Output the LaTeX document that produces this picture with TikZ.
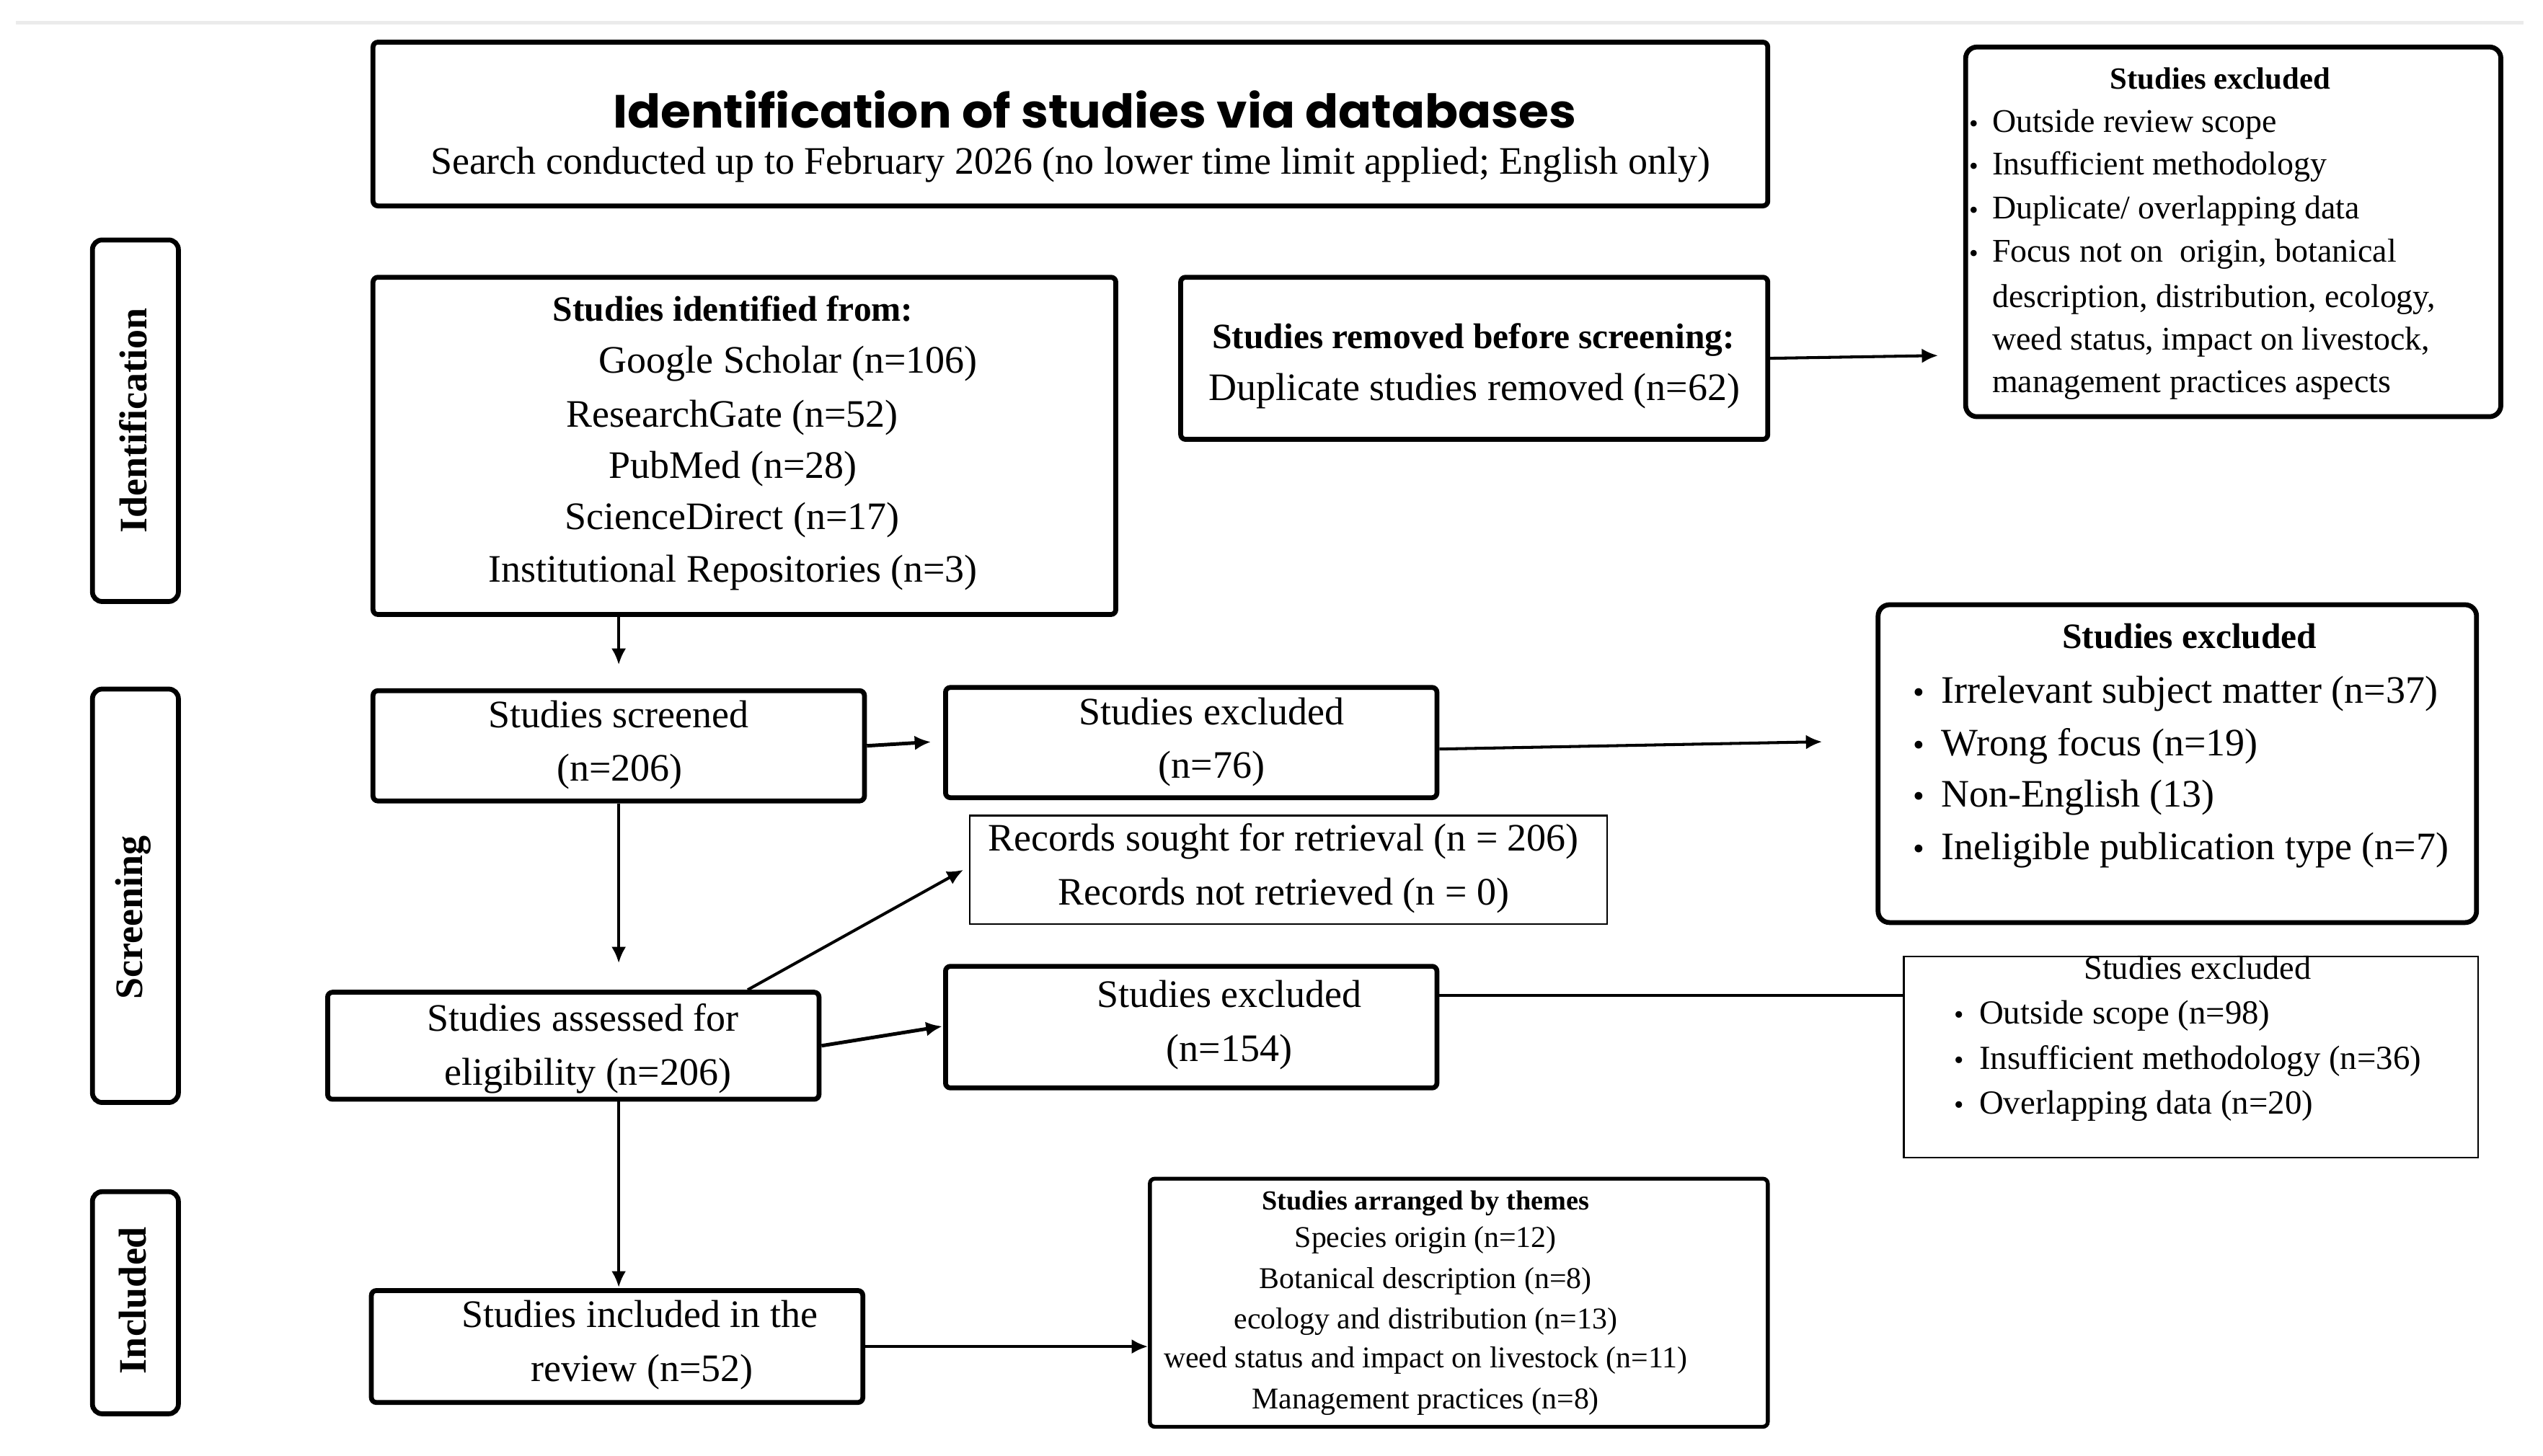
\documentclass[tikz,border=0pt]{standalone}
\usepackage{graphicx}
\usepackage{fontspec}
\setmainfont{Liberation Serif}
\newfontfamily\titlefont{Poppins}
\usetikzlibrary{fit,arrows.meta}
\tikzset{
  bx/.style={draw, line width=1.5pt, rounded corners=1.5pt, inner sep=0pt},
  bxr/.style={draw, line width=1.5pt, rounded corners=3.5pt, inner sep=0pt},
  thinbx/.style={draw, line width=0.6pt, inner sep=0pt},
  lab/.style={inner sep=0pt, rotate=90, font=\bfseries\fontsize{12}{14}\selectfont},
  tx/.style={inner sep=0pt, anchor=base, font=\fontsize{12}{14}\selectfont},
  txl/.style={tx, anchor=base west},
  hd/.style={inner sep=0pt, anchor=base, font=\bfseries\fontsize{11}{13}\selectfont},
  smx/.style={inner sep=0pt, anchor=base west, font=\fontsize{10.2}{12}\selectfont},
  mdx/.style={inner sep=0pt, anchor=base west, font=\fontsize{10.4}{12}\selectfont},
  thx/.style={inner sep=0pt, anchor=base, font=\fontsize{9.3}{11}\selectfont},
  arr/.style={-{Latex[length=5pt,width=4.5pt]}, line width=0.9pt},
  ln/.style={line width=1pt},
}
\begin{document}
\begin{tikzpicture}[x=0.5pt,y=-0.5pt]
\useasboundingbox (0,0) rectangle (1568,898);
\draw[black!8, line width=1pt] (10,14) -- (1556,14);

% boxes
\node[bx, fit={(230,26) (1090,127)}] (title) {};
\node[bx, rounded corners=3pt, fit={(57,148) (110,371)}] (idlab) {};
\node[bx, rounded corners=3pt, fit={(57,425) (110,680)}] (sclab) {};
\node[bx, rounded corners=3pt, fit={(57,735) (110,872)}] (inlab) {};
\node[bx, fit={(230,171) (688,379)}] (ident) {};
\node[bx, fit={(728,171) (1090,271)}] (removed) {};
\node[bxr, fit={(1212,29) (1542,257)}] (exclA) {};
\node[bx, fit={(230,426) (533,494)}] (screened) {};
\node[bx, fit={(583,424) (886,492)}] (exclS) {};
\node[bxr, fit={(1158,373) (1527,569)}] (exclB) {};
\node[thinbx, fit={(598,503) (991,570)}] (records) {};
\node[bx, fit={(202,612) (505,678)}] (assessed) {};
\node[bx, fit={(583,596) (886,671)}] (exclE) {};
\node[thinbx, fit={(1174,590) (1528,714)}] (exclC) {};
\node[bx, fit={(229,796) (532,865)}] (included) {};
\node[bx, line width=1.2pt, fit={(709,727) (1090,880)}] (themes) {};

% title
\node[inner sep=0pt, anchor=base] (tt) at (675,79) {\resizebox{297pt}{11.5pt}{\titlefont\bfseries Identification of studies via databases}};
\node[tx] (st) at (660,107.5) {Search conducted up to February 2026 (no lower time limit applied; English only)};

% side labels
\node[lab] (l1) at (82,259.5) {Identification};
\node[lab] (l2) at (82,566) {Screening};
\node[lab] (l3) at (82,802) {Included};

% identification
\node[hd] (i0) at (452,198) {Studies identified from:};
\node[tx] (i1) at (486,230) {Google Scholar (n=106)};
\node[tx] (i2) at (451.5,263.5) {ResearchGate (n=52)};
\node[tx] (i3) at (452,295) {PubMed (n=28)};
\node[tx] (i4) at (451.5,326.5) {ScienceDirect (n=17)};
\node[tx] (i5) at (452,359) {Institutional Repositories (n=3)};

\node[hd] (r0) at (908.5,215) {Studies removed before screening:};
\node[tx] (r1) at (909,247) {Duplicate studies removed (n=62)};

% top-right exclusions
\node[inner sep=0pt, anchor=base, font=\bfseries\fontsize{9.5}{11}\selectfont] (a0) at (1369,55) {Studies excluded};
\node[smx] (a1) at (1228,81.6) {Outside review scope};
\node[smx] (a2) at (1228,108) {Insufficient methodology};
\node[smx] (a3) at (1228,135) {Duplicate/ overlapping data};
\node[smx] (a4) at (1228,161.7) {Focus not on \ origin, botanical};
\node[smx] (a5) at (1228,189.4) {description, distribution, ecology,};
\node[smx] (a6) at (1228,216) {weed status, impact on livestock,};
\node[smx] (a7) at (1228,242) {management practices aspects};
\foreach \yy/\nm in {81.6/ba1,108/ba2,135/ba3,161.7/ba4}
  \node[inner sep=0pt, anchor=base, font=\fontsize{8}{9}\selectfont] (\nm) at (1217,\yy) {•};

% screening
\node[tx] (s1) at (381.5,449) {Studies screened};
\node[tx] (s2) at (382,481.5) {(n=206)};
\node[tx] (e1) at (747,447) {Studies excluded};
\node[tx] (e2) at (747,480) {(n=76)};

\node[hd] (b0) at (1350,400) {Studies excluded};
\node[txl] (b1) at (1196.6,433.6) {Irrelevant subject matter (n=37)};
\node[txl] (b2) at (1196.6,466) {Wrong focus (n=19)};
\node[txl] (b3) at (1196.6,497.5) {Non-English (13)};
\node[txl] (b4) at (1196.6,530) {Ineligible publication type (n=7)};
\foreach \yy/\nm in {433.6/bb1,466/bb2,497.5/bb3,530/bb4}
  \node[inner sep=0pt, anchor=base, font=\fontsize{10}{12}\selectfont] (\nm) at (1183,\yy) {•};

\node[tx] (rc1) at (791.5,525) {Records sought for retrieval (n = 206)};
\node[tx] (rc2) at (791.5,558) {Records not retrieved (n = 0)};

\node[tx] (as1) at (359.5,636) {Studies assessed for};
\node[tx] (as2) at (362.5,669.5) {eligibility (n=206)};
\node[tx] (x1) at (758,621.5) {Studies excluded};
\node[tx] (x2) at (758,654.6) {(n=154)};

\node[inner sep=0pt, anchor=base, font=\fontsize{10.3}{12}\selectfont] (c0) at (1355,604) {Studies excluded};
\node[mdx] (c1) at (1220,631.6) {Outside scope (n=98)};
\node[mdx] (c2) at (1220,659.3) {Insufficient methodology (n=36)};
\node[mdx] (c3) at (1220,687) {Overlapping data (n=20)};
\foreach \yy/\nm in {631.6/bc1,659.3/bc2,687/bc3}
  \node[inner sep=0pt, anchor=base, font=\fontsize{8.5}{10}\selectfont] (\nm) at (1208,\yy) {•};

% included
\node[tx] (n1) at (394.5,818.7) {Studies included in the};
\node[tx] (n2) at (396,852) {review (n=52)};

\node[inner sep=0pt, anchor=base, font=\bfseries\fontsize{8.5}{10}\selectfont] (h0) at (879,746) {Studies arranged by themes};
\node[thx] (h1) at (879,769.5) {Species origin (n=12)};
\node[thx] (h2) at (879,794.5) {Botanical description (n=8)};
\node[thx] (h3) at (879,819.5) {ecology and distribution (n=13)};
\node[thx] (h4) at (879,843.5) {weed status and impact on livestock (n=11)};
\node[thx] (h5) at (879,869) {Management practices (n=8)};

% connector end points
\coordinate (p1) at (381.5,410);
\coordinate (p2) at (1195,219.3);
\coordinate (p3) at (574,457.6);
\coordinate (p4) at (1123.5,457.5);
\coordinate (p5) at (381.5,594);
\coordinate (d1) at (461,612);
\coordinate (d2) at (594,536.5);
\coordinate (p7) at (581,633);
\coordinate (p8) at (1174,614);
\coordinate (p9) at (381.5,794);

% connectors
\draw[arr] (p1 |- ident.south) -- (p1);
\draw[arr] (removed.east) -- (p2);
\draw[arr, line width=1.1pt] (screened.east) -- (p3);
\draw[arr] ([yshift=-2pt]exclS.east) -- (p4);
\draw[arr] (p5 |- screened.south) -- (p5);
\draw[arr] (d1 |- assessed.north) -- (d2);
\draw[arr, line width=1.1pt] (assessed.east) -- (p7);
\draw[ln] (p8 -| exclE.east) -- (p8 -| exclC.west);
\draw[arr] (p9 |- assessed.south) -- (p9);
\draw[arr] (included.east) -- (included.east -| themes.west);
\end{tikzpicture}
\end{document}
